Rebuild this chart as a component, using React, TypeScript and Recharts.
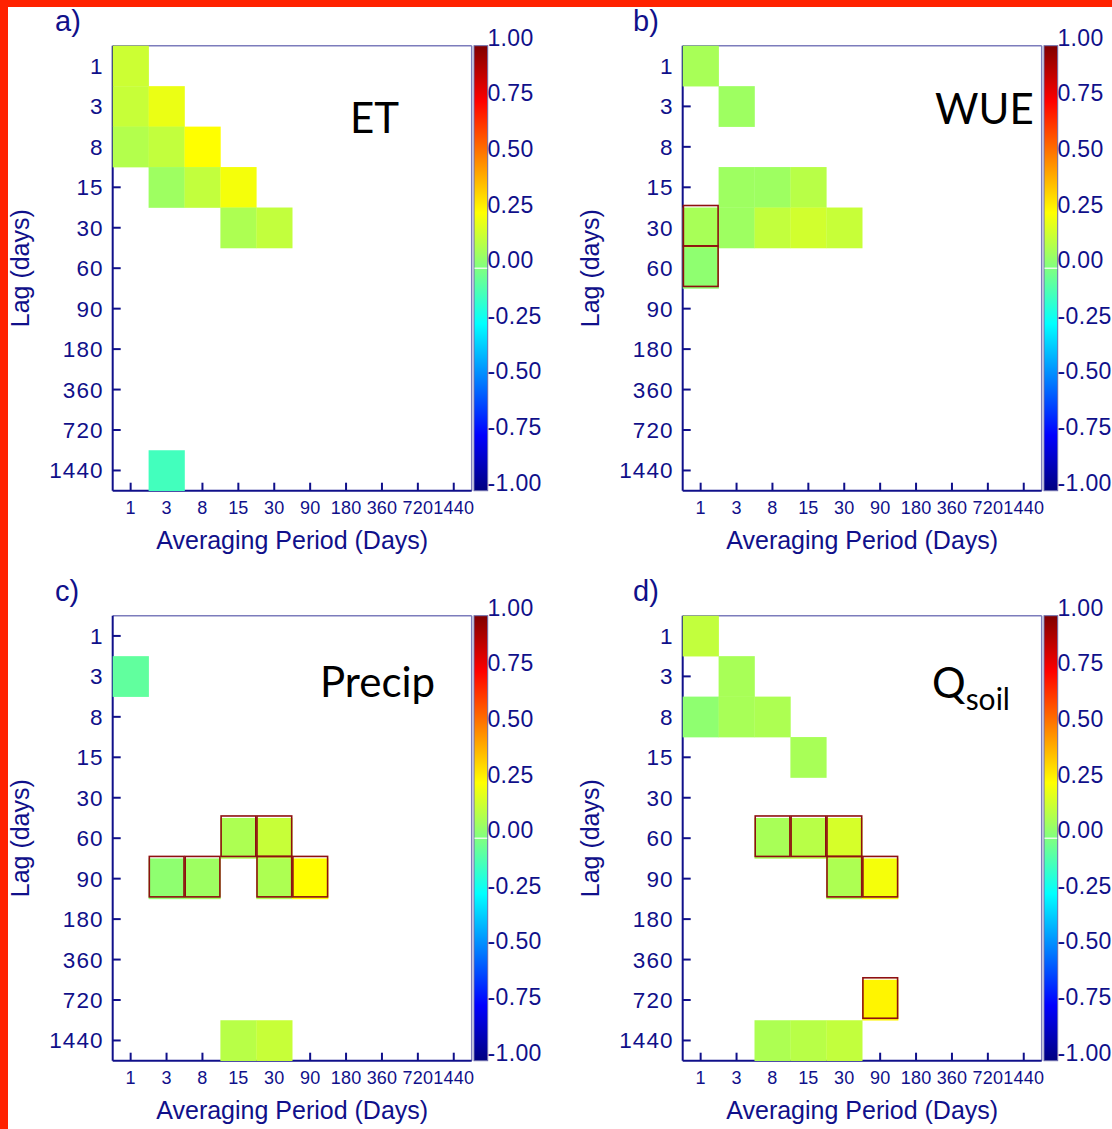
import React from 'react';
import { ScatterChart, Scatter, XAxis, YAxis, ReferenceLine } from 'recharts';

// axis categories
const AVG_PERIODS = [1, 3, 8, 15, 30, 90, 180, 360, 720, 1440];
const LAGS = [1, 3, 8, 15, 30, 60, 90, 180, 360, 720, 1440];
const CB_TICKS = [-1, -0.75, -0.5, -0.25, 0, 0.25, 0.5, 0.75, 1];

// [lag, averaging period, correlation]
type Cell = [number, number, number];
// [lag, averaging period] of cells outlined as significant
type Sig = [number, number];

const ET_CELLS: Cell[] = [
  [1, 1, 0.15],
  [3, 1, 0.14], [3, 3, 0.21],
  [8, 1, 0.1], [8, 3, 0.13], [8, 8, 0.25],
  [15, 3, 0.06], [15, 8, 0.13], [15, 15, 0.23],
  [30, 15, 0.09], [30, 30, 0.13],
  [1440, 3, -0.12]
];
const ET_SIG: Sig[] = [];

const WUE_CELLS: Cell[] = [
  [1, 1, 0.08],
  [3, 3, 0.06],
  [15, 3, 0.06], [15, 8, 0.06], [15, 15, 0.11],
  [30, 1, 0.08], [30, 3, 0.06], [30, 8, 0.13], [30, 15, 0.16], [30, 30, 0.14],
  [60, 1, 0.03]
];
const WUE_SIG: Sig[] = [[30, 1], [60, 1]];

const PRECIP_CELLS: Cell[] = [
  [3, 1, -0.06],
  [60, 15, 0.09], [60, 30, 0.14],
  [90, 3, 0.03], [90, 8, 0.06], [90, 30, 0.09], [90, 90, 0.25],
  [1440, 15, 0.11], [1440, 30, 0.14]
];
const PRECIP_SIG: Sig[] = [[60, 15], [60, 30], [90, 3], [90, 8], [90, 30], [90, 90]];

const QSOIL_CELLS: Cell[] = [
  [1, 1, 0.13],
  [3, 3, 0.08],
  [8, 1, 0.03], [8, 3, 0.08], [8, 8, 0.09],
  [15, 15, 0.08],
  [60, 8, 0.08], [60, 15, 0.11], [60, 30, 0.17],
  [90, 30, 0.09], [90, 90, 0.23],
  [720, 90, 0.27],
  [1440, 8, 0.09], [1440, 15, 0.11], [1440, 30, 0.13]
];
const QSOIL_SIG: Sig[] = [[60, 8], [60, 15], [60, 30], [90, 30], [90, 90], [720, 90]];

const NAVY = '#10108a';
const FONT = '"Liberation Sans", Arial, Helvetica, sans-serif';
const TITLE_FONT = 'Lato, "Open Sans", sans-serif';

// chart geometry
const CHART_W = 570;
const CHART_H = 570;
const TOP = 45.7;
const Y_W = 112.7;
const PLOT_W = 359;
const PLOT_H = 445;
const X_H = CHART_H - TOP - PLOT_H;
const CELL_W = PLOT_W / AVG_PERIODS.length;
const CELL_H = PLOT_H / LAGS.length;

// jet colour map for r in [-1, 1]
const jet = (v: number) => {
  const t = (v + 1) / 2;
  const c = (x: number) => Math.round(255 * Math.max(0, Math.min(1, x)));
  return `rgb(${c(1.5 - Math.abs(4 * t - 3))},${c(1.5 - Math.abs(4 * t - 2))},${c(1.5 - Math.abs(4 * t - 1))})`;
};

const toPoints = (cells: Cell[]) =>
  cells.map(([lag, avg, r]) => ({ x: AVG_PERIODS.indexOf(avg), y: LAGS.indexOf(lag), r }));

const toSigPoints = (sig: Sig[]) =>
  sig.map(([lag, avg]) => ({ x: AVG_PERIODS.indexOf(avg), y: LAGS.indexOf(lag) }));

const FillCell = (props: any) => {
  const { cx, cy, payload } = props;
  return (
    <rect
      x={cx - CELL_W / 2}
      y={cy - CELL_H / 2}
      width={CELL_W + 0.3}
      height={CELL_H + 0.3}
      fill={jet(payload.r)}
    />
  );
};

const SigCell = (props: any) => {
  const { cx, cy } = props;
  return (
    <rect
      x={cx - CELL_W / 2 + 0.7}
      y={cy - CELL_H / 2 - 2}
      width={CELL_W - 1.2}
      height={CELL_H}
      fill="none"
      stroke="#8e1010"
      strokeWidth={1.6}
    />
  );
};

const CB_STOPS = [1, 0.875, 0.75, 0.625, 0.5, 0.375, 0.25, 0.125, 0, -0.125, -0.25, -0.375, -0.5, -0.625, -0.75, -0.875, -1];

// colour bar position of a correlation value
const cbY = (v: number) => TOP + ((1 - v) / 2) * PLOT_H;

interface PanelProps {
  id: string;
  letter: string;
  letterX: number;
  cells: Cell[];
  sig: Sig[];
  title: React.ReactNode;
  left: number;
  top: number;
}

const Panel: React.FC<PanelProps> = ({ id, letter, letterX, cells, sig, title, left, top }) => {
  const cbX = Y_W + PLOT_W + 2.3;
  return (
    <div style={{ position: 'absolute', left, top }}>
      <ScatterChart
        width={CHART_W}
        height={CHART_H}
        margin={{ top: TOP, right: CHART_W - Y_W - PLOT_W, bottom: 0, left: 0 }}
      >
        <defs>
          <linearGradient id={`jet-${id}`} x1="0" y1="0" x2="0" y2="1">
            {CB_STOPS.map((v) => (
              <stop key={v} offset={(1 - v) / 2} stopColor={jet(v)} />
            ))}
          </linearGradient>
        </defs>
        <XAxis
          type="number"
          dataKey="x"
          domain={[-0.5, AVG_PERIODS.length - 0.5]}
          ticks={AVG_PERIODS.map((_, i) => i)}
          interval={0}
          tickFormatter={(i: number) => String(AVG_PERIODS[i])}
          height={X_H}
          tickSize={-8}
          tickMargin={19}
          axisLine={{ stroke: NAVY, strokeWidth: 2 }}
          tickLine={{ stroke: NAVY, strokeWidth: 2 }}
          tick={{ fill: NAVY, fontSize: 18, fontFamily: FONT, letterSpacing: 0.2 }}
        />
        <YAxis
          yAxisId="main"
          type="number"
          dataKey="y"
          reversed
          domain={[-0.5, LAGS.length - 0.5]}
          ticks={LAGS.map((_, i) => i)}
          interval={0}
          tickFormatter={(i: number) => String(LAGS[i])}
          width={Y_W}
          tickSize={-8}
          tickMargin={17}
          axisLine={{ stroke: NAVY, strokeWidth: 2 }}
          tickLine={{ stroke: NAVY, strokeWidth: 2 }}
          tick={{ fill: NAVY, fontSize: 22.5, fontFamily: FONT, letterSpacing: 1.1 }}
        />
        <ReferenceLine yAxisId="main" y={-0.5} stroke="#7c7cbc" strokeWidth={1.5} />
        <ReferenceLine yAxisId="main" x={AVG_PERIODS.length - 0.5} stroke="#7c7cbc" strokeWidth={1.5} />
        <Scatter
          yAxisId="main"
          data={toPoints(cells)}
          shape={FillCell}
          isAnimationActive={false}
        />
        <Scatter
          yAxisId="main"
          data={toSigPoints(sig)}
          shape={SigCell}
          isAnimationActive={false}
        />
        {/* colour bar */}
        <rect
          x={cbX}
          y={TOP}
          width={13.7}
          height={PLOT_H}
          fill={`url(#jet-${id})`}
          stroke="#6c6cac"
          strokeWidth={1}
        />
        <line x1={cbX + 0.5} x2={cbX + 13.2} y1={cbY(0)} y2={cbY(0)} stroke="#ffffff" strokeWidth={1.2} />
        {CB_TICKS.map((v) => (
          <text
            key={v}
            x={cbX + 13.4}
            y={cbY(v)}
            fill={NAVY}
            fontSize={23}
            fontFamily={FONT}
            letterSpacing={0.4}
          >
            {v.toFixed(2)}
          </text>
        ))}
        <text x={letterX} y={31} fill={NAVY} fontSize={29} fontFamily={FONT}>
          {letter}
        </text>
        <text
          x={29}
          y={TOP + PLOT_H / 2}
          transform={`rotate(-90 29 ${TOP + PLOT_H / 2})`}
          textAnchor="middle"
          fill={NAVY}
          fontSize={25}
          fontFamily={FONT}
        >
          Lag (days)
        </text>
        <text
          x={Y_W + PLOT_W / 2}
          y={549}
          textAnchor="middle"
          fill={NAVY}
          fontSize={25}
          fontFamily={FONT}
        >
          Averaging Period (Days)
        </text>
        {title}
      </ScatterChart>
    </div>
  );
};

const App: React.FC = () => {
  const titleStyle = { fontFamily: TITLE_FONT, fontSize: 42, fill: '#000000' };
  return (
    <div
      style={{
        position: 'absolute',
        left: 0,
        top: 0,
        width: 1112,
        height: 1129,
        overflow: 'hidden',
        background: '#ffffff'
      }}
    >
      <Panel
        id="a"
        letter="a)"
        letterX={55}
        cells={ET_CELLS}
        sig={ET_SIG}
        left={0}
        top={0}
        title={<text x={350} y={133} style={titleStyle}>ET</text>}
      />
      <Panel
        id="b"
        letter="b)"
        letterX={63}
        cells={WUE_CELLS}
        sig={WUE_SIG}
        left={570}
        top={0}
        title={<text x={365} y={124} style={titleStyle}>WUE</text>}
      />
      <Panel
        id="c"
        letter="c)"
        letterX={55}
        cells={PRECIP_CELLS}
        sig={PRECIP_SIG}
        left={0}
        top={570}
        title={<text x={320} y={127} style={titleStyle}>Precip</text>}
      />
      <Panel
        id="d"
        letter="d)"
        letterX={63}
        cells={QSOIL_CELLS}
        sig={QSOIL_SIG}
        left={570}
        top={570}
        title={
          <text x={362} y={128} style={titleStyle}>
            Q<tspan fontSize={30} dy={12}>soil</tspan>
          </text>
        }
      />
      <div style={{ position: 'absolute', left: 0, top: 0, width: 1112, height: 7, background: '#ff2200' }} />
      <div style={{ position: 'absolute', left: 0, top: 0, width: 7.5, height: 1129, background: '#ff2200' }} />
    </div>
  );
};

export default App;
